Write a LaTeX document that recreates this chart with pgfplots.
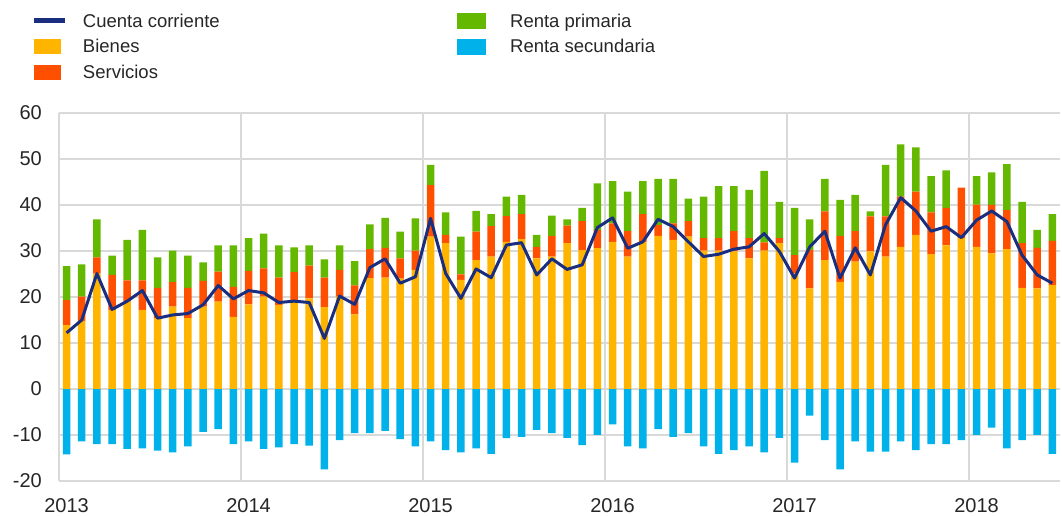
\documentclass[border=0pt]{standalone}
\usepackage{fontspec}
\setmainfont{Liberation Sans}
\usepackage{pgfplots}
\usepackage{pgfplotstable}
\pgfplotsset{compat=1.18}

\definecolor{ecbblue}{HTML}{1A2E80}
\definecolor{ecbyellow}{HTML}{FFB400}
\definecolor{ecbred}{HTML}{FF4F00}
\definecolor{ecbgreen}{HTML}{65B800}
\definecolor{ecbcyan}{HTML}{00B1EA}
\definecolor{gridgray}{HTML}{D9D9D9}
\definecolor{txtgray}{HTML}{262626}

\newcommand{\ls}{\rule[-5pt]{0pt}{19pt}}

% x: month index (0 = Jan 2013); g = Bienes, s = Servicios, p = Renta primaria,
% sec = Renta secundaria, ca = Cuenta corriente
\pgfplotstableread{
x g s p sec ca
0 13.9 5.4 7.4 -14.2 12.2
1 14.8 5.3 7.0 -11.4 15.0
2 25.1 3.5 8.3 -12.0 25.1
3 17.2 7.6 4.2 -12.0 17.3
4 19.0 4.6 8.8 -13.0 19.1
5 17.2 6.4 11.0 -12.9 21.4
6 15.4 6.6 6.6 -13.4 15.4
7 17.9 5.4 6.8 -13.8 16.1
8 15.4 6.6 7.0 -12.5 16.4
9 17.9 5.6 4.0 -9.3 18.3
10 19.0 6.5 5.7 -8.7 22.5
11 15.7 6.5 9.0 -12.0 19.6
12 18.4 7.3 7.1 -11.4 21.4
13 20.1 6.1 7.6 -13.0 20.9
14 18.3 5.9 7.0 -12.7 18.8
15 19.1 6.3 5.4 -12.0 19.1
16 19.7 7.1 4.4 -12.3 18.8
17 17.8 6.4 4.0 -17.5 11.0
18 20.1 5.8 5.3 -11.1 20.2
19 16.2 6.3 5.3 -9.6 18.4
20 24.1 6.3 5.4 -9.6 26.4
21 24.2 6.5 6.5 -9.1 28.3
22 24.0 4.4 5.8 -10.9 23.0
23 25.9 4.2 7.0 -12.5 24.4
24 33.1 11.2 4.4 -11.4 37.1
25 31.7 1.8 4.9 -13.3 25.1
26 23.7 1.2 8.2 -13.8 19.7
27 28.0 6.2 4.5 -12.9 26.1
28 28.8 6.6 2.6 -14.1 24.2
29 32.0 5.6 4.2 -10.7 31.3
30 32.6 5.4 4.2 -10.4 31.8
31 28.4 2.5 2.6 -8.9 24.8
32 28.8 4.5 4.4 -9.6 28.3
33 31.7 3.8 1.4 -10.6 26.0
34 30.2 6.3 2.9 -12.2 27.0
35 30.6 4.0 10.1 -10.0 35.1
36 32.0 4.0 9.2 -7.7 37.2
37 28.8 5.5 8.6 -12.5 30.6
38 32.0 6.0 7.2 -12.9 32.0
39 33.3 2.4 10.0 -8.7 36.9
40 32.4 3.6 9.7 -10.4 35.3
41 33.1 3.4 4.9 -9.6 32.0
42 30.1 2.7 9.0 -12.5 28.8
43 30.1 2.7 11.3 -14.1 29.3
44 29.9 4.4 9.8 -13.3 30.4
45 28.4 4.4 10.5 -12.5 30.9
46 30.1 1.8 15.5 -13.8 33.8
47 31.7 1.1 7.9 -10.6 29.9
48 25.1 4.0 10.3 -16.0 24.1
49 21.9 8.3 6.7 -5.8 30.9
50 28.0 10.6 7.1 -11.1 34.3
51 23.3 10.0 7.8 -17.5 24.1
52 27.7 6.6 7.9 -11.4 30.7
53 29.9 7.6 1.1 -13.6 24.8
54 28.8 8.7 11.2 -13.6 35.7
55 30.9 10.9 11.4 -11.4 41.6
56 33.5 9.4 9.6 -13.3 38.7
57 29.3 9.1 7.9 -12.0 34.3
58 31.2 8.2 8.1 -12.0 35.3
59 32.8 11.0 0.0 -11.1 32.9
60 30.9 9.2 6.2 -10.0 36.7
61 29.5 10.5 7.1 -8.4 38.7
62 30.4 8.5 10.0 -12.9 36.4
63 22.0 9.7 9.0 -11.1 29.1
64 21.9 8.8 3.9 -10.0 24.8
65 22.6 9.6 5.8 -14.1 23.0
}\datatable

\pgfplotsset{
  baseaxis/.style={
    scale only axis, width=1001pt, height=368pt,
    xmin=-0.5, xmax=65.5, ymin=-20, ymax=60,
    at={(0pt,0pt)}, anchor=south west,
  },
}

\begin{document}
\begin{tikzpicture}
% Axis A: grid, ticks, legend, secondary income bars
\begin{axis}[
  baseaxis,
  axis x line*=bottom, axis y line*=left,
  axis line style={draw=gridgray, line width=1.2pt, -},
  xtick={0,12,24,36,48,60},
  xticklabels={2013,2014,2015,2016,2017,2018},
  minor xtick={11.5,23.5,35.5,47.5,59.5},
  xminorgrids,
  minor grid style={draw=gridgray, line width=1.2pt},
  ytick={-20,-10,0,10,20,30,40,50,60},
  yticklabels={-20,-10,0,10,20,30,40,50,60},
  ymajorgrids,
  major grid style={draw=gridgray, line width=1.2pt},
  major tick length=0pt, minor tick length=0pt,
  tick label style={font=\fontsize{20}{22}\selectfont, text=txtgray},
  xticklabel style={inner sep=0pt, anchor=north, yshift=-17pt},
  yticklabel style={inner sep=0pt, anchor=east, xshift=-17pt},
  legend columns=2,
  legend cell align=left,
  legend style={
    at={(-0.02697,1.2717)}, anchor=north west,
    draw=none, fill=none, inner sep=0pt, outer sep=0pt,
    font=\fontsize{18.5}{20}\selectfont, text=txtgray,
    nodes={inner sep=0pt},
    row sep=10pt,
    /tikz/column 1/.style={column sep=15pt},
    /tikz/column 2/.style={column sep=237pt},
    /tikz/column 3/.style={column sep=25pt},
  },
]
\addlegendimage{legend image code/.code={\draw[ecbblue, line width=5pt] (0pt,0pt) -- (31pt,0pt);}}
\addlegendentry{\ls Cuenta corriente}
\addlegendimage{legend image code/.code={\fill[ecbgreen] (0pt,-7.5pt) rectangle (28pt,7.5pt);}}
\addlegendentry{\ls Renta primaria}
\addlegendimage{legend image code/.code={\fill[ecbyellow] (0pt,-7pt) rectangle (26pt,7pt);}}
\addlegendentry{\ls Bienes}
\addlegendimage{legend image code/.code={\fill[ecbcyan] (0pt,-7.5pt) rectangle (28pt,7.5pt);}}
\addlegendentry{\ls Renta secundaria}
\addlegendimage{legend image code/.code={\fill[ecbred] (0pt,-7pt) rectangle (26pt,7pt);}}
\addlegendentry{\ls Servicios}

\addplot[ybar, bar width=7.5pt, bar shift=0pt, fill=ecbcyan, draw=none, forget plot]
  table[x=x, y=sec] {\datatable};
\end{axis}

% Axis B: stacked positive components
\begin{axis}[
  baseaxis, hide axis,
  ybar stacked, bar width=7.5pt,
]
\addplot[fill=ecbyellow, draw=none] table[x=x, y=g] {\datatable};
\addplot[fill=ecbred, draw=none] table[x=x, y=s] {\datatable};
\addplot[fill=ecbgreen, draw=none] table[x=x, y=p] {\datatable};
\end{axis}

% Axis C: current account line
\begin{axis}[baseaxis, hide axis]
\addplot[ecbblue, line width=3pt, line join=round, mark=none]
  table[x=x, y=ca] {\datatable};
\end{axis}

\pgfresetboundingbox
\useasboundingbox (-59pt,-35pt) rectangle (1003pt,481pt);
\end{tikzpicture}
\end{document}
